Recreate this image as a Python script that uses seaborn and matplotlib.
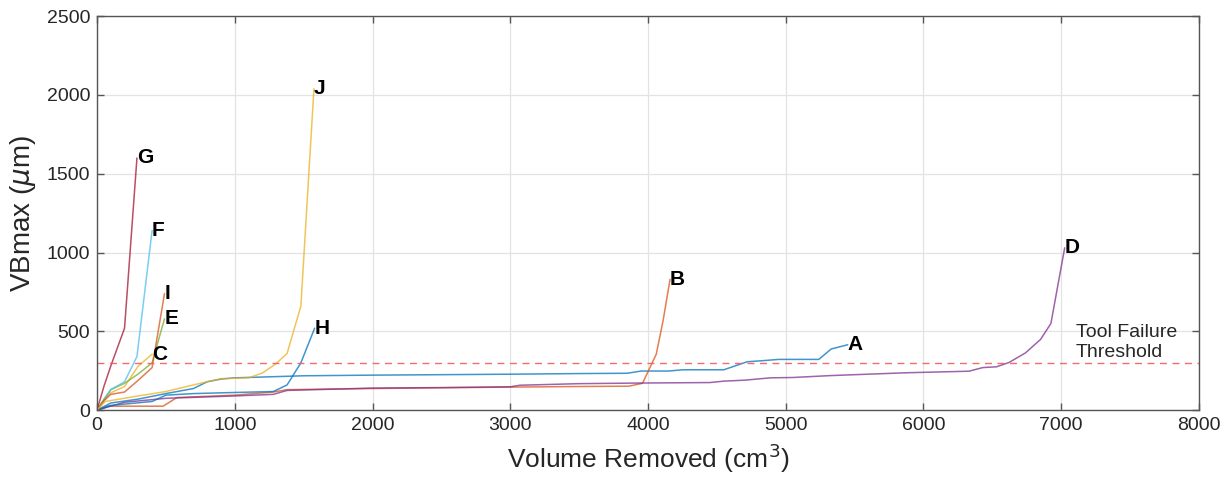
import numpy as np
import pandas as pd
import matplotlib
matplotlib.use("Agg")
import matplotlib.pyplot as plt
import seaborn as sns

# ---- data ----
A_x = [0, 100, 300, 500, 700, 800, 900, 1000, 1200, 1500, 2000, 2500, 3000, 3500, 3850, 3950, 4150, 4250, 4550, 4720, 4820, 4950, 5240, 5330, 5450]
A_y = [0, 45, 70, 105, 137, 180, 197, 205, 210, 218, 222, 225, 228, 232, 234, 248, 248, 256, 256, 307, 313, 322, 322, 388, 415]

B_x = [0, 80, 480, 580, 1000, 1280, 1380, 2000, 2500, 3000, 3500, 3860, 3960, 4060, 4110, 4160]
B_y = [0, 25, 25, 80, 95, 115, 130, 137, 142, 146, 150, 152, 170, 355, 570, 830]

C_x = [0, 50, 100, 200, 300, 400]
C_y = [0, 60, 110, 150, 280, 355]

D_x = [0, 200, 500, 1000, 1280, 1380, 2000, 2500, 3000, 3070, 3500, 3950, 4450, 4550, 4700, 4890, 5050, 5320, 5870, 6330, 6430, 6530, 6620, 6740, 6850, 6925, 7025]
D_y = [0, 50, 75, 90, 100, 125, 140, 143, 148, 158, 168, 172, 175, 184, 190, 205, 207, 219, 237, 247, 270, 275, 302, 363, 449, 550, 1030]

E_x = [0, 50, 100, 200, 300, 400, 490]
E_y = [0, 70, 130, 170, 230, 300, 580]

F_x = [0, 50, 100, 200, 290, 400]
F_y = [0, 60, 130, 180, 340, 1140]

G_x = [0, 50, 100, 200, 290]
G_y = [0, 150, 280, 520, 1600]

H_x = [0, 100, 400, 500, 700, 1000, 1280, 1380, 1480, 1580]
H_y = [0, 30, 55, 95, 105, 112, 118, 160, 300, 520]

I_x = [0, 50, 100, 200, 300, 400, 490]
I_y = [0, 60, 100, 115, 190, 270, 740]

J_x = [0, 60, 300, 500, 700, 900, 1100, 1200, 1300, 1380, 1480, 1575]
J_y = [0, 55, 90, 118, 160, 200, 205, 235, 295, 360, 660, 2040]

tools = ["A", "B", "C", "D", "E", "F", "G", "H", "I", "J"]
xs = [A_x, B_x, C_x, D_x, E_x, F_x, G_x, H_x, I_x, J_x]
ys = [A_y, B_y, C_y, D_y, E_y, F_y, G_y, H_y, I_y, J_y]

threshold = 300
threshold_label = "Tool Failure\nThreshold"

colors = {
    "A": "#0072BD", "B": "#D95319", "C": "#EDB120", "D": "#7E2F8E",
    "E": "#77AC30", "F": "#4DBEEE", "G": "#A2142F", "H": "#0072BD",
    "I": "#D95319", "J": "#EDB120",
}

rows = []
for t, xv, yv in zip(tools, xs, ys):
    for i, (a, b) in enumerate(zip(xv, yv)):
        rows.append({"tool": t, "vol": a, "vb": b, "order": i})
df = pd.DataFrame(rows)

sns.set_theme(style="whitegrid")
plt.rcParams["font.family"] = ["Liberation Sans", "DejaVu Sans"]
plt.rcParams["mathtext.fontset"] = "dejavusans"

fig = plt.figure(figsize=(12.31, 4.90), dpi=100)
ax = fig.add_axes([0.0788, 0.163, 0.974 - 0.0788, 0.967 - 0.163])

sns.lineplot(data=df, x="vol", y="vb", hue="tool", palette=colors,
             estimator=None, sort=False, units="tool", legend=False,
             linewidth=1.1, alpha=0.75, ax=ax)

ax.axhline(threshold, color="#f25c5c", linestyle=(0, (5, 4)), linewidth=1.0, alpha=0.9)
ax.text(7105, 430, threshold_label, ha="left", va="center",
        fontsize=14, color="#262626", linespacing=1.2)

for t, xv, yv in zip(tools, xs, ys):
    ax.text(xv[-1], yv[-1], t, ha="left", va="center", fontsize=15,
            fontweight="bold", color="black")

ax.set_xlim(0, 8000)
ax.set_ylim(0, 2500)
ax.set_xticks(np.arange(0, 8001, 1000))
ax.set_yticks(np.arange(0, 2501, 500))
ax.set_xlabel("Volume Removed (cm$^3$)", fontsize=19, color="#262626", labelpad=5)
ax.set_ylabel("VBmax ($\\mu$m)", fontsize=20, color="#262626", labelpad=6)

ax.set_facecolor("white")
ax.grid(True, color="#e3e3e3", linewidth=0.9)
for s in ax.spines.values():
    s.set_visible(True)
    s.set_color("#555555")
    s.set_linewidth(1.0)
ax.tick_params(axis="both", direction="in", length=5, width=1, color="#555555",
               labelsize=14, labelcolor="#262626", top=True, right=True,
               bottom=True, left=True, pad=5)

fig.savefig("out.png", dpi=100, facecolor="white")
